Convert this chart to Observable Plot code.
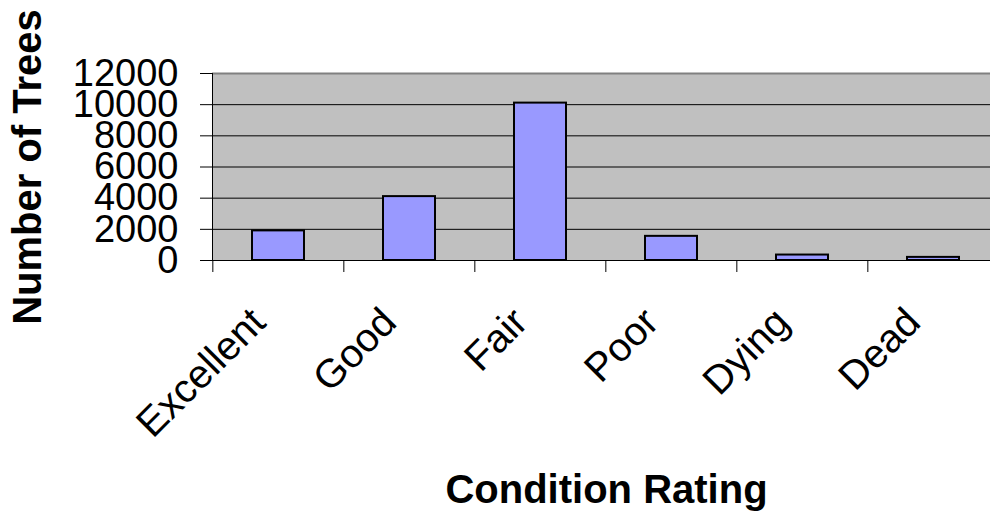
<!DOCTYPE html>
<html>
<head>
<meta charset="utf-8">
<script src="https://cdn.jsdelivr.net/npm/d3@7"></script>
<script src="https://cdn.jsdelivr.net/npm/@observablehq/plot@0.6"></script>
<style>
  html, body { margin: 0; padding: 0; background: #fff; overflow: hidden; }
  #chart { width: 990px; height: 516px; overflow: hidden; }
</style>
</head>
<body>
<div id="chart"></div>
<script>
const categories = ["Excellent", "Good", "Fair", "Poor", "Dying", "Dead"];
const counts = [1900, 4100, 10100, 1550, 350, 200];
const yTicks = [0, 2000, 4000, 6000, 8000, 10000, 12000];
const yTitle = "Number of Trees";
const xTitle = "Condition Rating";

const data = categories.map((c, i) => ({rating: c, count: counts[i]}));

const W = 1000, H = 516, ML = 212, MR = 0, MT = 73, MB = 256;
const step = (W - ML - MR) / categories.length;

const chart = Plot.plot({
  width: W, height: H,
  marginLeft: ML, marginRight: MR, marginTop: MT, marginBottom: MB,
  style: {fontFamily: "'Liberation Sans', Arial, sans-serif", background: "#fff", color: "#000", overflow: "visible", maxWidth: "none"},
  x: {domain: categories, paddingInner: 0.6, paddingOuter: 0.3, axis: null},
  y: {type: "linear", domain: [0, 12000], axis: null},
  marks: [
    Plot.frame({fill: "#c0c0c0"}),
    Plot.ruleY(yTicks.slice(1, -1), {stroke: "#000", strokeWidth: 1}),
    Plot.ruleY([12000], {stroke: "#808080", strokeWidth: 2}),
    Plot.barY(data, {x: "rating", y: "count", fill: "#9999ff", stroke: "#000", strokeWidth: 2}),
    Plot.ruleY([0], {stroke: "#000"}),
    Plot.axisY({ticks: yTicks, tickSize: 12, tickPadding: 22, fontSize: 38, label: null, tickFormat: d => String(d)}),
    Plot.frame({anchor: "left", stroke: "#000"}),
    Plot.axisX({ticks: categories, tickSize: 12, tickFormat: () => "", label: null, dx: -step / 2, stroke: "#000"}),
    Plot.text(categories, {x: d => d, text: d => d, frameAnchor: "bottom", rotate: -45, textAnchor: "end", lineAnchor: "top", dx: -31, dy: 44, fontSize: 40}),
    Plot.text([yTitle], {text: d => d, frameAnchor: "left", textAnchor: "middle", lineAnchor: "middle", rotate: -90, dx: -184, fontSize: 40, fontWeight: "bold"}),
    Plot.text([xTitle], {text: d => d, frameAnchor: "bottom", textAnchor: "middle", lineAnchor: "middle", dy: 230, fontSize: 40, fontWeight: "bold"})
  ]
});
document.getElementById("chart").appendChild(chart);
</script>
</body>
</html>
